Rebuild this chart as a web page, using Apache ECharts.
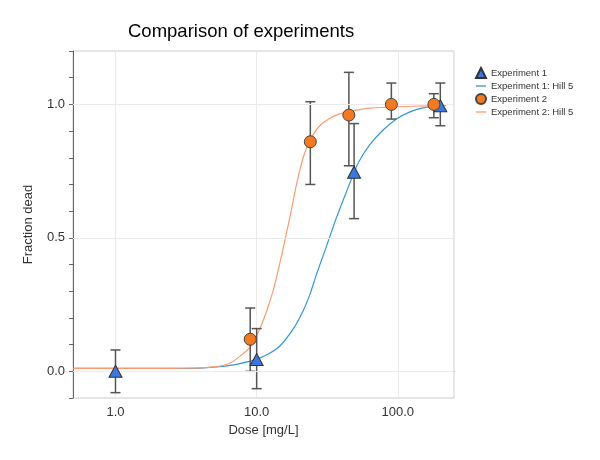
<!DOCTYPE html>
<html>
<head>
<meta charset="utf-8">
<script src="https://cdn.jsdelivr.net/npm/echarts@6/dist/echarts.min.js"></script>
<style>html,body{margin:0;padding:0;background:#fff}#c{width:600px;height:460px}</style>
</head>
<body>
<div id="c"></div>
<script>
// ---- data ----
const exp1X = [1, 10, 49, 200];
const exp1Y = [0, 0.044, 0.746, 0.995];
const exp1Lo = [-0.08, -0.065, 0.572, 0.92];
const exp1Hi = [0.08, 0.16, 0.928, 1.08];

const exp2X = [9, 24, 45, 90, 180];
const exp2Y = [0.12, 0.86, 0.96, 1.0, 1.0];
const exp2Lo = [0.0, 0.70, 0.77, 0.945, 0.95];
const exp2Hi = [0.237, 1.01, 1.12, 1.08, 1.04];

const fit1X = [0.5, 1, 2, 3, 4, 5.5, 6.5, 7.6, 9.5, 11.8, 14.6, 18.2, 21.4, 23.9, 26.6, 30.5, 34, 36.9, 44.7, 52.6, 63.6, 79, 98.4, 122, 148, 178, 220];
const fit1Y = [0.011, 0.011, 0.011, 0.011, 0.012, 0.017, 0.022, 0.029, 0.042, 0.062, 0.095, 0.16, 0.228, 0.29, 0.365, 0.453, 0.525, 0.578, 0.692, 0.782, 0.85, 0.905, 0.946, 0.972, 0.986, 0.993, 0.997];

const fit2X = [0.5, 1, 2, 3, 4, 4.7, 5.5, 6.5, 7.6, 9, 9.7, 10.55, 11.8, 13.1, 14.2, 15.3, 17.2, 19.2, 21.4, 23.9, 28.1, 34.9, 43.5, 63.6, 129, 220];
const fit2Y = [0.011, 0.011, 0.011, 0.0115, 0.013, 0.016, 0.02, 0.031, 0.056, 0.091, 0.122, 0.16, 0.228, 0.303, 0.378, 0.453, 0.578, 0.703, 0.803, 0.865, 0.921, 0.955, 0.971, 0.986, 0.993, 0.995];

const xTickVals = [1, 10, 100];
const xTickLabels = ['1.0', '10.0', '100.0'];
const yTickVals = [0, 0.5, 1.0];
const yTickLabels = ['0.0', '0.5', '1.0'];

const names = ['Experiment 1', 'Experiment 1: Hill 5', 'Experiment 2', 'Experiment 2: Hill 5'];

// ---- chart ----
const FONT = '"Liberation Sans", Arial, sans-serif';
const chart = echarts.init(document.getElementById('c'), null, {renderer: 'canvas'});

function errRender(params, api) {
  const x = api.value(0), lo = api.value(1), hi = api.value(2);
  const p1 = api.coord([x, lo]), p2 = api.coord([x, hi]);
  const w = 5;
  const st = {stroke: '#555', lineWidth: 1.5};
  return {type: 'group', children: [
    {type: 'line', shape: {x1: p1[0], y1: p1[1], x2: p2[0], y2: p2[1]}, style: st},
    {type: 'line', shape: {x1: p1[0] - w, y1: p1[1], x2: p1[0] + w, y2: p1[1]}, style: st},
    {type: 'line', shape: {x1: p2[0] - w, y1: p2[1], x2: p2[0] + w, y2: p2[1]}, style: st}
  ]};
}

const LINE_ICON = 'path://M0,0h12v1.6h-12z';

const option = {
  backgroundColor: '#fff',
  animation: false,
  title: {
    text: 'Comparison of experiments',
    left: 128, top: 22, padding: 0,
    textStyle: {fontFamily: FONT, fontSize: 18.5, fontWeight: 'normal', color: '#000'}
  },
  legend: {
    data: [
      {name: names[0]},
      {name: names[1], icon: LINE_ICON},
      {name: names[2]},
      {name: names[3], icon: LINE_ICON}
    ],
    orient: 'vertical',
    left: 470, top: 62,
    itemWidth: 10, itemHeight: 10, itemGap: 2,
    symbolKeepAspect: true,
    textStyle: {fontFamily: FONT, fontSize: 9.5, lineHeight: 10, color: '#333'},
    selectedMode: false
  },
  grid: {
    left: 73, right: 146, top: 51, bottom: 62,
    show: true, borderColor: '#ccc', borderWidth: 1
  },
  xAxis: {
    type: 'log', logBase: 10, min: 0.5, max: 250,
    name: 'Dose [mg/L]', nameLocation: 'middle', nameGap: 23,
    nameTextStyle: {fontFamily: FONT, fontSize: 13, color: '#333'},
    axisLine: {show: true, lineStyle: {color: '#666', width: 1}},
    axisTick: {show: false},
    axisLabel: {
      fontFamily: FONT, fontSize: 13, color: '#333', margin: 8,
      showMinLabel: false, showMaxLabel: false,
      formatter: function (v) {
        for (let i = 0; i < xTickVals.length; i++) {
          if (Math.abs(v - xTickVals[i]) < 1e-6 * xTickVals[i]) return xTickLabels[i];
        }
        return '';
      }
    },
    splitLine: {show: true, lineStyle: {color: '#ebebeb', width: 1}}
  },
  yAxis: {
    type: 'value', min: -0.1, max: 1.2, interval: 0.1,
    name: 'Fraction dead', nameLocation: 'middle', nameGap: 38,
    nameTextStyle: {fontFamily: FONT, fontSize: 13, color: '#333'},
    axisLine: {show: true, lineStyle: {color: '#666', width: 1}},
    axisTick: {show: true, length: 4, lineStyle: {color: '#666'}},
    axisLabel: {
      fontFamily: FONT, fontSize: 13, color: '#333', margin: 8,
      formatter: function (v) {
        for (let i = 0; i < yTickVals.length; i++) {
          if (Math.abs(v - yTickVals[i]) < 1e-6) return yTickLabels[i];
        }
        return '';
      }
    },
    splitLine: {show: false}
  },
  series: [
    {
      name: 'gridY', type: 'line', data: [], z: 0, silent: true,
      markLine: {
        silent: true, symbol: 'none', label: {show: false},
        lineStyle: {color: '#ebebeb', type: 'solid', width: 1},
        data: yTickVals.map(v => ({yAxis: v}))
      }
    },
    {
      name: names[1], type: 'line', symbol: 'none', z: 2,
      smooth: 0.2,
      lineStyle: {color: '#3399d6', width: 1.2},
      itemStyle: {color: '#3399d6'},
      data: fit1X.map((x, i) => [x, fit1Y[i]])
    },
    {
      name: names[3], type: 'line', symbol: 'none', z: 3,
      smooth: 0.2,
      lineStyle: {color: '#ff9a70', width: 1.2},
      itemStyle: {color: '#ff9a70'},
      data: fit2X.map((x, i) => [x, fit2Y[i]])
    },
    {
      name: 'err1', type: 'custom', renderItem: errRender, z: 4, silent: true,
      encode: {x: 0, y: [1, 2]},
      data: exp1X.map((x, i) => [x, exp1Lo[i], exp1Hi[i]])
    },
    {
      name: 'err2', type: 'custom', renderItem: errRender, z: 4, silent: true,
      encode: {x: 0, y: [1, 2]},
      data: exp2X.map((x, i) => [x, exp2Lo[i], exp2Hi[i]])
    },
    {
      name: names[0], type: 'scatter', symbol: 'triangle', symbolSize: [13, 12], z: 5,
      itemStyle: {color: '#3a78e0', borderColor: '#333', borderWidth: 1, opacity: 1},
      data: exp1X.map((x, i) => [x, exp1Y[i]])
    },
    {
      name: names[2], type: 'scatter', symbol: 'circle', symbolSize: 12, z: 5,
      itemStyle: {color: '#f47a22', borderColor: '#444', borderWidth: 1, opacity: 1},
      data: exp2X.map((x, i) => [x, exp2Y[i]])
    }
  ]
};
chart.setOption(option);
</script>
</body>
</html>
